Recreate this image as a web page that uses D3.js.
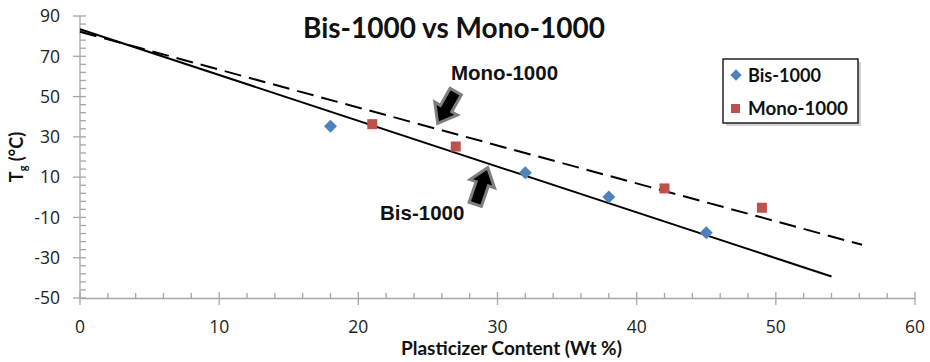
<!DOCTYPE html>
<html><head><meta charset="utf-8">
<script src="https://cdn.jsdelivr.net/npm/d3@7"></script>
<style>body{margin:0;background:#fff}svg{display:block}</style>
</head><body>
<svg id="c" width="930" height="362"></svg>
<script>
// ---- data ----
const bisX = [18, 32, 38, 45];
const bisY = [35.3, 12.2, 0.2, -17.6];
const monoX = [21, 27, 42, 49];
const monoY = [36.3, 25.2, 4.4, -5.2];
const bisTrendX = [0, 54];
const bisTrendY = [83.4, -39.3];
const monoTrendX = [0, 56.2];
const monoTrendY = [82.2, -23.6];
const xTicks = [0, 10, 20, 30, 40, 50, 60];
const yTicks = [-50, -30, -10, 10, 30, 50, 70, 90];
const seriesNames = ["Bis-1000", "Mono-1000"];
const titleText = "Bis-1000 vs Mono-1000";
const xLabel = "Plasticizer Content (Wt %)";
// annotation arrows: [tipX, tipY, tailX, tailY] in data units
const monoArrow = [25.7, 36.7, 27.0, 52.5];
const bisArrow = [29.3, 14.7, 28.4, -3.5];

// ---- layout ----
const svg = d3.select("#c");
const x = d3.scaleLinear().domain([0, 60]).range([80, 915]);
const y = d3.scaleLinear().domain([-50, 90]).range([298, 16]);
const axisColor = "#a6a6a6";
const blue = "#4f81bd", red = "#c0504d";

function fit(sel, w) {
  const n = sel.node();
  const fs = parseFloat(sel.attr("font-size"));
  const len = n.getComputedTextLength();
  sel.attr("font-size", fs * w / len);
}

// axes
const gx = svg.append("g").attr("transform", `translate(0,${y(-50)})`);
gx.call(d3.axisBottom(x).tickValues(d3.range(0, 61, 2)).tickSize(0).tickFormat(""));
gx.select(".domain").attr("stroke", axisColor).attr("stroke-width", 1.3);
gx.selectAll(".tick line").remove();
gx.selectAll(".minor").data(d3.range(0, 61, 2)).enter().append("line")
  .attr("x1", d => x(d)).attr("x2", d => x(d))
  .attr("y1", d => d % 10 === 0 ? -6 : -5).attr("y2", d => d % 10 === 0 ? 7 : 0)
  .attr("stroke", axisColor).attr("stroke-width", 1.3);
gx.selectAll(".xl").data(xTicks).enter().append("text")
  .attr("x", d => x(d)).attr("y", 35).attr("text-anchor", "middle")
  .attr("font-family", "Open Sans").attr("font-size", 17.5).attr("fill", "#222")
  .text(d => d);

const gy = svg.append("g").attr("transform", `translate(${x(0)},0)`);
gy.append("line").attr("y1", y(-50)).attr("y2", y(90)).attr("stroke", axisColor).attr("stroke-width", 1.3);
gy.selectAll(".ym").data(d3.range(-50, 91, 4)).enter().append("line")
  .attr("y1", d => y(d)).attr("y2", d => y(d))
  .attr("x1", d => yTicks.includes(d) ? -7 : 0).attr("x2", 6)
  .attr("stroke", axisColor).attr("stroke-width", 1.3);
gy.selectAll(".yl").data(yTicks).enter().append("text")
  .attr("x", -20).attr("y", d => y(d)).attr("dy", "0.36em").attr("text-anchor", "end")
  .attr("font-family", "Open Sans").attr("font-size", 17.5).attr("fill", "#222")
  .text(d => d);

// trend lines
const line = d3.line().x(d => x(d[0])).y(d => y(d[1]));
svg.append("path").datum(bisTrendX.map((v, i) => [v, bisTrendY[i]]))
  .attr("d", line).attr("stroke", "#000").attr("stroke-width", 2).attr("fill", "none");
svg.append("path").datum(monoTrendX.map((v, i) => [v, monoTrendY[i]]))
  .attr("d", line).attr("stroke", "#000").attr("stroke-width", 2).attr("fill", "none")
  .attr("stroke-dasharray", "17,8");

// markers
svg.selectAll(".bis").data(bisX.map((v, i) => [v, bisY[i]])).enter().append("path")
  .attr("d", d3.symbol().type(d3.symbolSquare).size(84))
  .attr("transform", d => `translate(${x(d[0])},${y(d[1])}) rotate(45)`)
  .attr("fill", blue);
svg.selectAll(".mono").data(monoX.map((v, i) => [v, monoY[i]])).enter().append("rect")
  .attr("x", d => x(d[0]) - 5).attr("y", d => y(d[1]) - 5)
  .attr("width", 10).attr("height", 10).attr("fill", red);

// block arrows
function arrow(a) {
  const tx = x(a[0]), ty = y(a[1]), bx = x(a[2]), by = y(a[3]);
  const L = Math.hypot(tx - bx, ty - by);
  const ang = Math.atan2(ty - by, tx - bx) * 180 / Math.PI;
  const hl = 17, hw = 13, sw = 6.5;
  const pts = [[0, -sw], [L - hl, -sw], [L - hl, -hw], [L, 0], [L - hl, hw], [L - hl, sw], [0, sw]];
  svg.append("polygon").attr("points", pts.map(p => p.join(",")).join(" "))
    .attr("transform", `translate(${bx},${by}) rotate(${ang})`)
    .attr("fill", "#000").attr("stroke", "#7f7f7f").attr("stroke-width", 3)
    .attr("stroke-linejoin", "miter");
}
arrow(monoArrow);
arrow(bisArrow);

// annotation labels
svg.append("text").attr("x", 451).attr("y", 80)
  .attr("font-family", "Liberation Sans, Arial").attr("font-weight", "bold")
  .attr("font-size", 20.5).attr("fill", "#111").text(seriesNames[1]);
svg.append("text").attr("x", 380).attr("y", 220)
  .attr("font-family", "Liberation Sans, Arial").attr("font-weight", "bold")
  .attr("font-size", 20.5).attr("fill", "#111").text(seriesNames[0]);

// title
const t = svg.append("text").attr("x", 303).attr("y", 38)
  .attr("font-family", "Lato").attr("font-weight", "bold").attr("font-size", 26)
  .attr("fill", "#111").text(titleText);
fit(t, 302);

// legend
const lg = svg.append("g").attr("transform", "translate(723,59)");
lg.append("rect").attr("x", 3).attr("y", 3).attr("width", 135).attr("height", 64)
  .attr("fill", "#bfbfbf").attr("opacity", 0.7);
lg.append("rect").attr("width", 135).attr("height", 64).attr("fill", "#fff")
  .attr("stroke", "#000").attr("stroke-width", 1.3);
lg.append("path").attr("d", d3.symbol().type(d3.symbolSquare).size(64))
  .attr("transform", "translate(13,16) rotate(45)").attr("fill", blue);
lg.append("rect").attr("x", 8).attr("y", 45).attr("width", 9).attr("height", 9).attr("fill", red);
const l1 = lg.append("text").attr("x", 25).attr("y", 23)
  .attr("font-family", "Lato").attr("font-weight", "bold").attr("font-size", 18)
  .attr("fill", "#111").text(seriesNames[0]);
fit(l1, 73);
const l2 = lg.append("text").attr("x", 25).attr("y", 56)
  .attr("font-family", "Lato").attr("font-weight", "bold").attr("font-size", 18)
  .attr("fill", "#111").text(seriesNames[1]);
fit(l2, 100);

// axis titles
const xl = svg.append("text").attr("x", 401).attr("y", 355)
  .attr("font-family", "Lato").attr("font-weight", "bold").attr("font-size", 17)
  .attr("fill", "#111").text(xLabel);
fit(xl, 221);

const yl = svg.append("text").attr("transform", "translate(23,157) rotate(-90)")
  .attr("text-anchor", "middle")
  .attr("font-family", "Lato").attr("font-weight", "bold").attr("font-size", 18)
  .attr("fill", "#111");
yl.append("tspan").text("T");
yl.append("tspan").attr("font-size", 11).attr("dy", 4).text("g");
yl.append("tspan").attr("dy", -4).text(" (°C)");
</script>
</body></html>
